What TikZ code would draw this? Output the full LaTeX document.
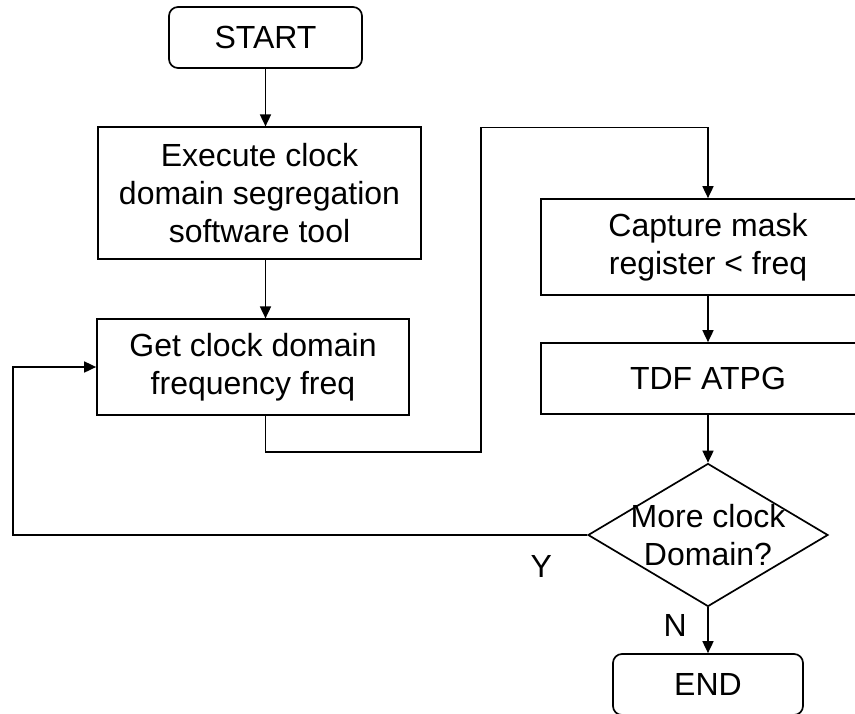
\documentclass[tikz,border=0pt]{standalone}
\usepackage{fontspec}
\setmainfont{Liberation Sans}
\usetikzlibrary{arrows.meta,shapes.geometric}

\begin{document}
\begin{tikzpicture}[
	x=1pt, y=-1pt,
	>={Triangle[length=12pt,width=11pt]},
	every node/.style={
		font=\fontsize{32}{38}\selectfont
	},
	terminal/.style={
		rectangle,
		draw=black,
		line width=1.7pt,
		align=center,
		rounded corners=9pt,
		minimum height=61pt
	},
	process/.style={
		rectangle,
		draw=black,
		line width=1.7pt,
		align=center
	},
	decision/.style={
		diamond,
		draw=black,
		line width=1.7pt,
		inner sep=0pt,
		minimum width=240pt,
		minimum height=143pt
	},
	flow/.style={
		line width=1.7pt,
		->
	},
]

\useasboundingbox (0,0) rectangle (855,713);
\clip (0,0) rectangle (855,713);

\node[terminal, minimum width=193pt] (start) at (265.5, 37.5) {START};
\node[process, minimum width=323pt, minimum height=131.5pt] (exec) at (259.5, 193) {Execute clock \\ domain segregation \\ software tool};
\node[process, minimum width=312pt, minimum height=95.5pt] (get) at (253, 367) {Get clock domain \\ frequency freq};

\node[process, minimum width=334pt, minimum height=96pt] (capture) at (708, 247) {Capture mask \\ register < freq};
\node[process, minimum width=334pt, minimum height=71pt] (tdf) at (708, 378.5) {TDF ATPG};
\node[decision] (more) at (708, 535) {};
\node[align=center] (moretext) at (more) {More clock \\ Domain?};
\node[terminal, minimum width=190pt] (end) at (708, 684.5) {END};

\draw[flow] (start.south) -- (start.south |- exec.north);
\draw[flow] (start.south |- exec.south) -- (start.south |- get.north);
\draw[flow] (start.south |- get.south) -- ++(0,36.5) -| (481,127.5) -| (capture.north);
\draw[flow] (capture.south) -- (tdf.north);
\draw[flow] (tdf.south) -- (more.north);
\draw[flow] (more.south) -- node[left, xshift=-17pt, yshift=5pt] (labN) {N} (end.north);
\draw[flow] (more.west) -- node[below, pos=0.08, yshift=-16pt] (labY) {Y} (13,535) |- (get.west);

\end{tikzpicture}
\end{document}
